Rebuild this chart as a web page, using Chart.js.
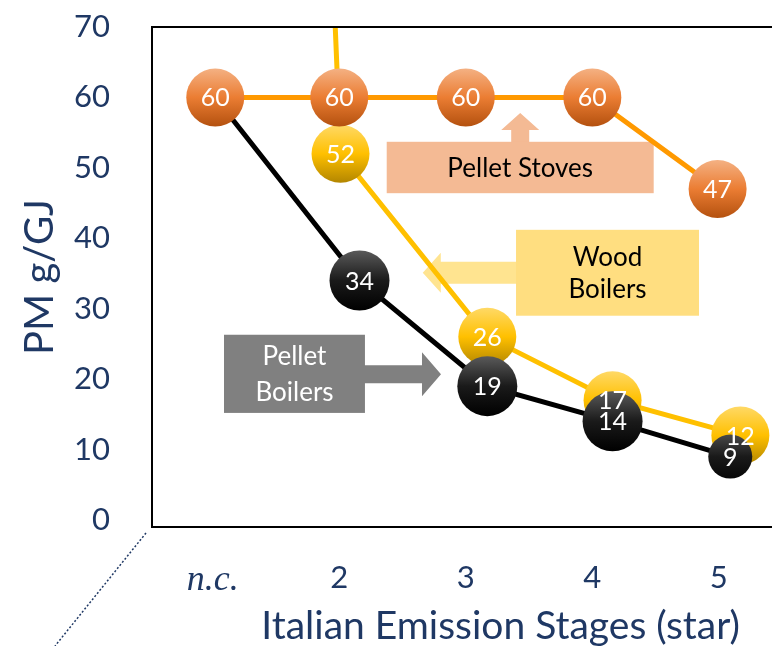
<!DOCTYPE html>
<html>
<head>
<meta charset="utf-8">
<script src="https://cdn.jsdelivr.net/npm/chart.js@4"></script>
<style>
  html, body { margin: 0; padding: 0; background: #fff; }
</style>
</head>
<body>
<canvas id="pmChart" width="772" height="646"></canvas>
<script>
// x stages (tick labels) and y ticks
const stageLabels = ['n.c.', '2', '3', '4', '5'];
const pmTicks = [0, 10, 20, 30, 40, 50, 60, 70];

// bubbles sit a little right of the stage they belong to
const stovesX = [1.02, 2.0, 3.0, 4.0, 4.99];
const stovesPM = [60, 60, 60, 60, 47];

const woodX = [1.91, 2.01, 3.17, 4.16, 5.17];
const woodPM = [95, 52, 26, 17, 12];   // first point is off the top of the chart

const boilersX = [1.02, 2.16, 3.17, 4.16, 5.09];
const boilersPM = [60, 34, 19, 14, 9];

const navy = '#1F3864';

const toPoints = (xs, ys) => xs.map((x, i) => ({ x: x, y: ys[i] }));

// shaded ball fill, top light -> bottom dark
function ballFill(light, mid, dark, r) {
    return (c) => {
        if (c.type !== 'data') return mid;
        const chart = c.chart;
        const y = chart.scales.y ? chart.scales.y.getPixelForValue(c.parsed.y) : NaN;
        if (!isFinite(y)) return mid;
        const g = chart.ctx.createLinearGradient(0, y - r, 0, y + r);
        g.addColorStop(0, light);
        g.addColorStop(0.5, mid);
        g.addColorStop(1, dark);
        return g;
    };
}

// callout boxes in data units, arrows tip in data units
const callouts = [
    { text: ['Pellet Stoves'], x0: 2.375, x1: 4.485, y0: 46.4, y1: 53.7, fill: '#F4BA94', color: '#000', lh: 32,
      arrow: { dir: 'up', x: 3.43, y: 57.8, shaft: 9, head: 19, len: 17, fill: '#F4BA94' } },
    { text: ['Wood', 'Boilers'], x0: 3.397, x1: 4.843, y0: 29.0, y1: 41.2, fill: '#FFDE80', color: '#000', lh: 32,
      arrow: { dir: 'left', x: 2.66, y: 35.1, shaft: 11, head: 20, len: 18, fill: '#FFE490' } },
    { text: ['Pellet', 'Boilers'], x0: 1.089, x1: 2.203, y0: 15.2, y1: 26.3, fill: '#808080', color: '#fff', lh: 36,
      arrow: { dir: 'right', x: 2.804, y: 20.7, shaft: 9, head: 22, len: 19, fill: '#808080' } }
];

const calloutPlugin = {
    id: 'callouts',
    beforeDatasetsDraw(chart) {
        const { ctx, scales: { x, y } } = chart;
        ctx.save();
        callouts.forEach(b => {
            const L = x.getPixelForValue(b.x0), R = x.getPixelForValue(b.x1);
            const T = y.getPixelForValue(b.y1), B = y.getPixelForValue(b.y0);
            const a = b.arrow;
            const ax = x.getPixelForValue(a.x), ay = y.getPixelForValue(a.y);
            ctx.fillStyle = a.fill;
            ctx.beginPath();
            if (a.dir === 'up') {
                ctx.moveTo(ax, ay);
                ctx.lineTo(ax + a.head, ay + a.len);
                ctx.lineTo(ax + a.shaft, ay + a.len);
                ctx.lineTo(ax + a.shaft, T + 1);
                ctx.lineTo(ax - a.shaft, T + 1);
                ctx.lineTo(ax - a.shaft, ay + a.len);
                ctx.lineTo(ax - a.head, ay + a.len);
            } else if (a.dir === 'left') {
                ctx.moveTo(ax, ay);
                ctx.lineTo(ax + a.len, ay - a.head);
                ctx.lineTo(ax + a.len, ay - a.shaft);
                ctx.lineTo(L + 1, ay - a.shaft);
                ctx.lineTo(L + 1, ay + a.shaft);
                ctx.lineTo(ax + a.len, ay + a.shaft);
                ctx.lineTo(ax + a.len, ay + a.head);
            } else {
                ctx.moveTo(ax, ay);
                ctx.lineTo(ax - a.len, ay - a.head);
                ctx.lineTo(ax - a.len, ay - a.shaft);
                ctx.lineTo(R - 1, ay - a.shaft);
                ctx.lineTo(R - 1, ay + a.shaft);
                ctx.lineTo(ax - a.len, ay + a.shaft);
                ctx.lineTo(ax - a.len, ay + a.head);
            }
            ctx.closePath();
            ctx.fill();

            ctx.fillStyle = b.fill;
            ctx.fillRect(L, T, R - L, B - T);

            ctx.fillStyle = b.color;
            ctx.font = '26px Lato';
            ctx.textAlign = 'center';
            ctx.textBaseline = 'middle';
            const cx = (L + R) / 2, cy = (T + B) / 2;
            b.text.forEach((t, i) => {
                ctx.fillText(t, cx, cy + 1 + (i - (b.text.length - 1) / 2) * b.lh);
            });
        });
        ctx.restore();
    }
};

// value written inside each ball, once all balls are down
const ballLabels = {
    id: 'ballLabels',
    afterDatasetsDraw(chart) {
        const { ctx } = chart;
        ctx.save();
        ctx.fillStyle = '#fff';
        ctx.font = '25px Lato';
        ctx.textAlign = 'center';
        ctx.textBaseline = 'middle';
        [2, 1, 0].forEach(di => {
            const ds = chart.data.datasets[di];
            chart.getDatasetMeta(di).data.forEach((el, i) => {
                if (!el.options.radius) return;
                ctx.fillText(String(ds.data[i].y), el.x, el.y + 1);
            });
        });
        ctx.restore();
    }
};

const frame = {
    id: 'frame',
    afterDraw(chart) {
        const { ctx, chartArea: a } = chart;
        ctx.save();
        // top edge of the plot box
        ctx.strokeStyle = '#000';
        ctx.lineWidth = 2;
        ctx.beginPath();
        ctx.moveTo(a.left - 1, a.top);
        ctx.lineTo(a.right, a.top);
        ctx.stroke();
        // dotted guide at the lower-left corner
        ctx.strokeStyle = navy;
        ctx.lineWidth = 1.5;
        ctx.setLineDash([2, 2]);
        ctx.beginPath();
        ctx.moveTo(a.left - 6, a.bottom + 6);
        ctx.lineTo(a.left - 97, a.bottom + 119);
        ctx.stroke();
        ctx.setLineDash([]);
        // x axis title
        ctx.fillStyle = navy;
        ctx.font = '39px Lato';
        ctx.textAlign = 'right';
        ctx.textBaseline = 'middle';
        ctx.fillText('Italian Emission Stages (star)', a.right - 32, a.bottom + 99);
        ctx.restore();
    }
};

const ctx = document.getElementById('pmChart').getContext('2d');

new Chart(ctx, {
    type: 'line',
    data: {
        datasets: [
            {
                label: 'Pellet Stoves',
                data: toPoints(stovesX, stovesPM),
                borderColor: '#FF9900',
                borderWidth: 5,
                pointRadius: 29,
                pointHoverRadius: 29,
                pointBorderWidth: 0,
                pointBackgroundColor: ballFill('#F4B183', '#EB7D33', '#B4510F', 29),
                order: 0
            },
            {
                label: 'Pellet Boilers',
                data: toPoints(boilersX, boilersPM),
                borderColor: '#000000',
                borderWidth: 5,
                pointRadius: [0, 30, 30, 30, 22],
                pointHoverRadius: [0, 30, 30, 30, 22],
                pointBorderWidth: 0,
                pointBackgroundColor: ballFill('#5A5A5A', '#1A1A1A', '#000000', 30),
                order: 1
            },
            {
                label: 'Wood Boilers',
                data: toPoints(woodX, woodPM),
                borderColor: '#FFC000',
                borderWidth: 5,
                pointRadius: [0, 29, 29, 29, 29],
                pointHoverRadius: [0, 29, 29, 29, 29],
                pointBorderWidth: 0,
                pointBackgroundColor: ballFill('#FFD966', '#FFC000', '#B38600', 29),
                order: 2
            }
        ]
    },
    options: {
        responsive: false,
        animation: false,
        events: [],
        layout: { autoPadding: false, padding: { top: 27, left: 0, right: 0, bottom: 0 } },
        plugins: {
            legend: { display: false },
            tooltip: { enabled: false }
        },
        scales: {
            x: {
                type: 'linear',
                min: 0.52,
                max: 5.42,
                afterBuildTicks: (s) => { s.ticks = stageLabels.map((l, i) => ({ value: i + 1 })); },
                afterFit: (s) => { s.height = 119; s.paddingLeft = 0; s.paddingRight = 0; },
                grid: { display: false },
                border: { display: true, color: '#000', width: 2 },
                ticks: {
                    color: navy,
                    padding: 24,
                    maxRotation: 0,
                    autoSkip: false,
                    callback: (v) => stageLabels[v - 1],
                    font: (c) => c.index === 0
                        ? { family: 'Liberation Serif', style: 'italic', size: 36 }
                        : { family: 'Lato', size: 31 }
                }
            },
            y: {
                min: -1,
                max: 70,
                afterBuildTicks: (s) => { s.ticks = pmTicks.map(v => ({ value: v })); },
                afterFit: (s) => { s.width = 152; s.paddingTop = 0; s.paddingBottom = 0; },
                grid: { display: false },
                border: { display: true, color: '#000', width: 2 },
                ticks: {
                    color: navy,
                    padding: 34,
                    font: { family: 'Lato', size: 31 }
                },
                title: {
                    display: true,
                    text: 'PM g/GJ',
                    color: navy,
                    padding: { top: 16, bottom: 0 },
                    font: { family: 'Lato', size: 40 }
                }
            }
        }
    },
    plugins: [calloutPlugin, ballLabels, frame]
});
</script>
</body>
</html>
